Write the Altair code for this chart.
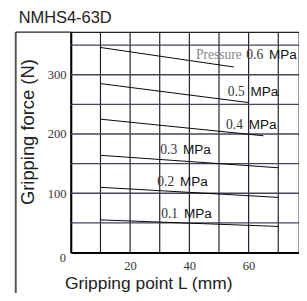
import altair as alt
import pandas as pd

# ---- data ----
pressures = ["0.6", "0.5", "0.4", "0.3", "0.2", "0.1"]
start_L = [10, 10, 10, 10, 10, 10]
start_F = [346, 285, 225, 164, 110, 55]
end_L = [55, 60, 65, 70, 70, 70]
end_F = [313, 253, 197, 143, 93, 44]
label_L = [64.9, 58.7, 58.1, 35.9, 34.9, 36.2]
label_F = [333, 271, 215, 173, 119, 65]
prefix_text = ["Pressure"]
prefix_L = [57.7]
prefix_F = [333]
x_grid = [10, 20, 30, 40, 50, 60, 70]
y_grid = [50, 100, 150, 200, 250, 300, 350]
x_ticks = [0, 10, 20, 30, 40, 50, 60, 70]
y_ticks = [0, 50, 100, 150, 200, 250, 300, 350]
x_labels = [20, 40, 60]
y_labels = [100, 200, 300]
origin_label = ["0"]
frame_L = [-18.6]
frame_top_F = [372]
frame_bottom_F = [-75]

rows = []
for p, l0, f0, l1, f1 in zip(pressures, start_L, start_F, end_L, end_F):
    rows.append({"p": p, "L": l0, "F": f0})
    rows.append({"p": p, "L": l1, "F": f1})
lines_df = pd.DataFrame(rows)
labels_df = pd.DataFrame({"p": pressures, "L": label_L, "F": label_F})
prefix_df = pd.DataFrame({"t": prefix_text, "L": prefix_L, "F": prefix_F})
origin_df = pd.DataFrame({"t": origin_label, "L": [0], "F": [0]})
xg_df = pd.DataFrame({"L": x_grid})
yg_df = pd.DataFrame({"F": y_grid})
frame_df = pd.DataFrame({"L": frame_L, "L2": [0], "F": frame_top_F, "F2": frame_bottom_F})

xlab_expr = " || ".join(f"datum.value == {v}" for v in x_labels)
ylab_expr = " || ".join(f"datum.value == {v}" for v in y_labels)

x_scale = alt.Scale(domain=[0, 77], nice=False, zero=False)
y_scale = alt.Scale(domain=[0, 372], nice=False, zero=False)

x_axis = alt.Axis(
    values=x_ticks, labelExpr=f"({xlab_expr}) ? datum.label : ''",
    ticks=False, labelPadding=8, labelFont="Liberation Serif", labelFontSize=13,
    labelColor="#333", domainColor="#000", domainWidth=2, grid=False,
    title="Gripping point L (mm)", titleFont="Liberation Sans", titleFontSize=18,
    titleFontWeight="normal", titleColor="#222", titleX=80, titleY=32,
    titleAlign="center", titleBaseline="middle",
)
y_axis = alt.Axis(
    values=y_ticks, labelExpr=f"({ylab_expr}) ? datum.label : ''",
    ticks=False, labelPadding=5, labelFont="Liberation Serif", labelFontSize=13,
    labelColor="#333", domainColor="#000", domainWidth=2, grid=False,
    title="Gripping force (N)", titleFont="Liberation Sans", titleFontSize=19,
    titleFontWeight="normal", titleColor="#222", titleX=-45, titleY=103,
    titleAlign="center", titleBaseline="middle", titleAngle=270,
)

vgrid = alt.Chart(xg_df).mark_rule(color="#1c1c2e", strokeWidth=1.2).encode(
    x=alt.X("L:Q", scale=x_scale, axis=x_axis)
)
hgrid = alt.Chart(yg_df).mark_rule(color="#45455a", strokeWidth=1.4).encode(
    y=alt.Y("F:Q", scale=y_scale, axis=y_axis)
)

lines = alt.Chart(lines_df).mark_line(color="#000", strokeWidth=1).encode(
    x=alt.X("L:Q", scale=x_scale), y=alt.Y("F:Q", scale=y_scale), detail="p:N"
)

nums = alt.Chart(labels_df).mark_text(
    align="right", baseline="middle", font="Liberation Serif", fontSize=14, color="#333"
).encode(x="L:Q", y="F:Q", text="p:N")

mpa = alt.Chart(labels_df).mark_text(
    align="left", baseline="middle", font="Liberation Sans", fontSize=14, color="#111", dx=6
).encode(x="L:Q", y="F:Q", text=alt.value("MPa"))

prefix = alt.Chart(prefix_df).mark_text(
    align="right", baseline="middle", font="Liberation Serif", fontSize=14, color="#888"
).encode(x="L:Q", y="F:Q", text="t:N")

origin = alt.Chart(origin_df).mark_text(
    align="right", baseline="middle", font="Liberation Serif", fontSize=13, color="#333",
    dx=-5, dy=6
).encode(x="L:Q", y="F:Q", text="t:N")

frame_left = alt.Chart(frame_df).mark_rule(color="#555", strokeWidth=2).encode(
    x="L:Q", y="F:Q", y2="F2:Q"
)
frame_top = alt.Chart(frame_df).mark_rule(color="#222", strokeWidth=1.3).encode(
    x="L:Q", x2="L2:Q", y="F:Q"
)

chart = alt.layer(vgrid, hgrid, lines, nums, mpa, prefix, origin, frame_left, frame_top).properties(
    width=236, height=228,
    title=alt.TitleParams(
        "NMHS4-63D", anchor="start", dx=4, offset=4,
        font="Liberation Sans", fontSize=17, fontWeight="normal", color="#222",
    ),
    autosize=alt.AutoSizeParams(type="none"),
    padding={"left": 65, "top": 20, "right": 0, "bottom": 37},
).configure_view(stroke="#222", strokeWidth=1.3)

chart.save("out.html", embed_options={"renderer": "svg", "actions": False})
